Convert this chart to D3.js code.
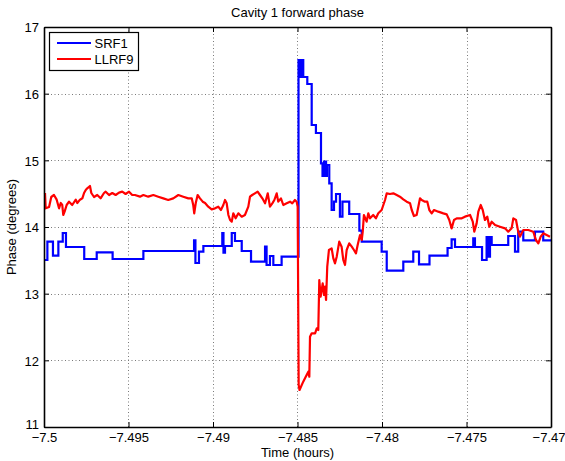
<!DOCTYPE html>
<html>
<head>
<meta charset="utf-8">
<script src="https://cdn.jsdelivr.net/npm/d3@7"></script>
<style>
  html, body { margin: 0; padding: 0; background: #fff; }
  svg { display: block; font-family: "Liberation Sans", Arial, Helvetica, sans-serif; }
</style>
</head>
<body>
<svg id="chart" width="565" height="461"></svg>
<script>
// Cavity 1 forward phase: SRF1 (stepped readback) vs LLRF9 over a 0.03 h window
const chartTitle = "Cavity 1 forward phase";
const xLabel = "Time (hours)";
const yLabel = "Phase (degrees)";
const seriesNames = ["SRF1", "LLRF9"];
const seriesColors = ["#0000ff", "#ff0000"];

const xTicks = [-7.5, -7.495, -7.49, -7.485, -7.48, -7.475, -7.47];
const xTickLabels = ["\u22127.5", "\u22127.495", "\u22127.49", "\u22127.485", "\u22127.48", "\u22127.475", "\u22127.47"];
const yTicks = [11, 12, 13, 14, 15, 16, 17];
const yTickLabels = ["11", "12", "13", "14", "15", "16", "17"];

// SRF1: [time (h), phase (deg)], value holds until the next sample
const srf1Time = [
  -7.49994, -7.49980, -7.49947, -7.49915, -7.49889, -7.49870, -7.49762, -7.49688, -7.49594, -7.49412,
  -7.49112, -7.49104, -7.49083, -7.49057, -7.48945, -7.48938, -7.48929, -7.48889, -7.48870, -7.48830,
  -7.48775, -7.48692, -7.48683, -7.48663, -7.48643, -7.48594, -7.48494, -7.48482, -7.48476, -7.48466,
  -7.48442, -7.48416, -7.48391, -7.48361, -7.48352, -7.48343, -7.48331, -7.48326, -7.48312, -7.48298,
  -7.48284, -7.48272, -7.48249, -7.48234, -7.48194, -7.48134, -7.48120, -7.48002, -7.47972, -7.47874,
  -7.47815, -7.47781, -7.47719, -7.47612, -7.47588, -7.47568, -7.47460, -7.47450, -7.47408, -7.47381,
  -7.47373, -7.47361, -7.47351, -7.47253, -7.47213, -7.47194, -7.47164, -7.47095, -7.47046, -7.47000
];
const srf1Phase = [
  13.505, 13.78, 13.57, 13.78, 13.91, 13.70, 13.52, 13.62, 13.52, 13.64,
  13.80, 13.46, 13.63, 13.715, 13.91, 13.615, 13.715, 13.91, 13.79, 13.64,
  13.48, 13.705, 13.43, 13.565, 13.43, 13.555, 16.505, 16.25, 16.505, 16.25,
  16.145, 15.53, 15.41, 14.955, 14.765, 14.98, 14.765, 14.93, 14.655, 14.255,
  14.38, 14.495, 14.155, 14.38, 14.195, 13.945, 13.78, 13.63, 13.345, 13.48,
  13.63, 13.44, 13.57, 13.685, 13.815, 13.70, 13.83, 13.70, 13.505, 13.85,
  13.555, 13.85, 13.73, 13.865, 13.63, 13.93, 13.80, 13.93, 13.80, 13.80
];

// LLRF9: [time (h), phase (deg)]
const llrf9Time = [
  -7.49994, -7.49990, -7.49970, -7.49957, -7.49941, -7.49925, -7.49911, -7.49901, -7.49892, -7.49886,
  -7.49878, -7.49866, -7.49852, -7.49833, -7.49812, -7.49803, -7.49787, -7.49773, -7.49763, -7.49753,
  -7.49744, -7.49728, -7.49720, -7.49704, -7.49685, -7.49665, -7.49645, -7.49635, -7.49615, -7.49596,
  -7.49576, -7.49556, -7.49537, -7.49517, -7.49497, -7.49478, -7.49462, -7.49432, -7.49412, -7.49383,
  -7.49353, -7.49324, -7.49294, -7.49265, -7.49235, -7.49205, -7.49176, -7.49146, -7.49126, -7.49117,
  -7.49111, -7.49102, -7.49091, -7.49077, -7.49061, -7.49047, -7.49028, -7.49008, -7.48988, -7.48969,
  -7.48953, -7.48939, -7.48929, -7.48919, -7.48909, -7.48899, -7.48889, -7.48880, -7.48866, -7.48850,
  -7.48830, -7.48811, -7.48791, -7.48781, -7.48768, -7.48752, -7.48736, -7.48722, -7.48708, -7.48692,
  -7.48676, -7.48663, -7.48649, -7.48637, -7.48623, -7.48614, -7.48598, -7.48584, -7.48564, -7.48544,
  -7.48531, -7.48515, -7.48505, -7.48499, -7.48493, -7.48488, -7.48466, -7.48446, -7.48436, -7.48430,
  -7.48426, -7.48416, -7.48396, -7.48386, -7.48377, -7.48371, -7.48363, -7.48351, -7.48343, -7.48337,
  -7.48331, -7.48324, -7.48314, -7.48298, -7.48288, -7.48278, -7.48268, -7.48253, -7.48239, -7.48229,
  -7.48219, -7.48209, -7.48194, -7.48179, -7.48166, -7.48154, -7.48144, -7.48130, -7.48120, -7.48114,
  -7.48107, -7.48091, -7.48081, -7.48071, -7.48052, -7.48036, -7.48022, -7.48002, -7.47982, -7.47972,
  -7.47953, -7.47933, -7.47913, -7.47894, -7.47874, -7.47854, -7.47834, -7.47824, -7.47811, -7.47795,
  -7.47785, -7.47775, -7.47765, -7.47746, -7.47732, -7.47720, -7.47706, -7.47692, -7.47667, -7.47637,
  -7.47617, -7.47602, -7.47588, -7.47574, -7.47558, -7.47528, -7.47509, -7.47479, -7.47463, -7.47454,
  -7.47440, -7.47430, -7.47416, -7.47404, -7.47391, -7.47377, -7.47365, -7.47351, -7.47331, -7.47302,
  -7.47272, -7.47253, -7.47233, -7.47223, -7.47207, -7.47194, -7.47184, -7.47164, -7.47134, -7.47105,
  -7.47089, -7.47075, -7.47061, -7.47046, -7.47026, -7.47006
];
const llrf9Phase = [
  14.51, 14.28, 14.30, 14.45, 14.48, 14.41, 14.28, 14.36, 14.33, 14.18,
  14.23, 14.33, 14.38, 14.33, 14.41, 14.36, 14.41, 14.43, 14.51, 14.555,
  14.58, 14.615, 14.51, 14.45, 14.48, 14.43, 14.51, 14.53, 14.48, 14.51,
  14.48, 14.515, 14.53, 14.495, 14.53, 14.48, 14.48, 14.455, 14.48, 14.455,
  14.48, 14.455, 14.43, 14.405, 14.43, 14.48, 14.455, 14.43, 14.43, 14.33,
  14.205, 14.36, 14.48, 14.43, 14.38, 14.36, 14.305, 14.265, 14.28, 14.305,
  14.255, 14.33, 14.405, 14.355, 14.18, 14.105, 14.08, 14.205, 14.13, 14.205,
  14.155, 14.18, 14.305, 14.455, 14.48, 14.505, 14.53, 14.48, 14.43, 14.355,
  14.505, 14.305, 14.355, 14.405, 14.505, 14.38, 14.43, 14.33, 14.355, 14.38,
  14.355, 14.405, 14.38, 14.305, 11.63, 11.555, 11.68, 11.78, 11.83, 11.755,
  12.355, 12.405, 12.405, 12.48, 12.455, 13.205, 12.955, 13.155, 12.98, 13.105,
  12.905, 13.405, 13.655, 13.68, 13.53, 13.455, 13.555, 13.78, 13.705, 13.505,
  13.43, 13.655, 13.755, 13.705, 13.655, 13.605, 13.73, 13.88, 13.805, 13.93,
  14.18, 14.08, 14.205, 14.13, 14.18, 14.13, 14.205, 14.255, 14.405, 14.505,
  14.495, 14.505, 14.48, 14.455, 14.415, 14.38, 14.355, 14.255, 14.165, 14.18,
  14.305, 14.43, 14.405, 14.38, 14.38, 14.255, 14.205, 14.255, 14.23, 14.205,
  14.19, 14.105, 13.98, 14.105, 14.13, 14.13, 14.155, 14.18, 14.08, 13.93,
  14.055, 14.23, 14.33, 14.255, 14.105, 14.155, 14.005, 14.08, 14.03, 14.005,
  13.98, 13.93, 13.98, 14.13, 14.105, 13.93, 13.855, 13.955, 13.955, 13.93,
  13.805, 13.755, 13.855, 13.905, 13.88, 13.855
];

const W = 565, H = 461;
const margin = { left: 44, right: 14, top: 27, bottom: 34 };
const plotW = W - margin.left - margin.right;
const plotH = H - margin.top - margin.bottom;

const svg = d3.select("#chart");
svg.append("rect").attr("width", W).attr("height", H).attr("fill", "#fff");

const x = d3.scaleLinear().domain([-7.5, -7.47]).range([margin.left, margin.left + plotW]);
const y = d3.scaleLinear().domain([11, 17]).range([margin.top + plotH, margin.top]);

// dotted grid
const grid = svg.append("g").attr("stroke", "#7a7a7a").attr("stroke-width", 1).attr("stroke-dasharray", "1,2.5");
grid.selectAll("line.gx").data(xTicks.slice(1, -1)).join("line")
  .attr("x1", d => Math.round(x(d)) + 0.5).attr("x2", d => Math.round(x(d)) + 0.5)
  .attr("y1", y(17)).attr("y2", y(11));
grid.selectAll("line.gy").data(yTicks.slice(1, -1)).join("line")
  .attr("y1", d => Math.round(y(d)) + 0.5).attr("y2", d => Math.round(y(d)) + 0.5)
  .attr("x1", x(-7.5)).attr("x2", x(-7.47));

// data lines
const plot = svg.append("g");
const srf1 = srf1Time.map((t, i) => [t, srf1Phase[i]]);
const llrf9 = llrf9Time.map((t, i) => [t, llrf9Phase[i]]);

plot.append("path").datum(srf1)
  .attr("fill", "none").attr("stroke", seriesColors[0]).attr("stroke-width", 2.2)
  .attr("stroke-linejoin", "miter")
  .attr("d", d3.line().x(d => x(d[0])).y(d => y(d[1])).curve(d3.curveStepAfter));

plot.append("path").datum(llrf9)
  .attr("fill", "none").attr("stroke", seriesColors[1]).attr("stroke-width", 2.2)
  .attr("stroke-linejoin", "round")
  .attr("d", d3.line().x(d => x(d[0])).y(d => y(d[1])));

// axes: bottom + left with labels, top + right for the box ticks
const tickFmtX = d => xTickLabels[xTicks.indexOf(d)];
const tickFmtY = d => yTickLabels[yTicks.indexOf(d)];

const axB = svg.append("g").attr("transform", `translate(0,${y(11)})`)
  .call(d3.axisBottom(x).tickValues(xTicks).tickFormat(tickFmtX).tickSizeInner(-5).tickSizeOuter(0).tickPadding(6));
const axL = svg.append("g").attr("transform", `translate(${x(-7.5)},0)`)
  .call(d3.axisLeft(y).tickValues(yTicks).tickFormat(tickFmtY).tickSizeInner(-5).tickSizeOuter(0).tickPadding(5));
const axT = svg.append("g").attr("transform", `translate(0,${y(17)})`)
  .call(d3.axisTop(x).tickValues(xTicks).tickFormat("").tickSizeInner(-5).tickSizeOuter(0));
const axR = svg.append("g").attr("transform", `translate(${x(-7.47)},0)`)
  .call(d3.axisRight(y).tickValues(yTicks).tickFormat("").tickSizeInner(-5).tickSizeOuter(0));

[axB, axL, axT, axR].forEach(a => {
  a.select(".domain").attr("stroke", "#000").attr("stroke-width", 1.6);
  a.selectAll(".tick line").attr("stroke", "#000").attr("stroke-width", 1);
  a.selectAll("text").attr("fill", "#000").attr("font-size", 13)
    .attr("font-family", "'Liberation Sans', Arial, Helvetica, sans-serif");
});
axB.selectAll("text").attr("dy", "0.71em");
// keep the last x label inside the canvas
axB.selectAll(".tick").filter(d => d === -7.47).select("text").attr("text-anchor", "end").attr("x", 14);
axL.selectAll("text").attr("dy", "0.36em");
// MATLAB-style: the lowest y label sits just above the corner
axL.selectAll(".tick").filter(d => d === 11).select("text").attr("dy", "0.1em");

// title and axis labels
svg.append("text").attr("x", x(-7.485)).attr("y", 17).attr("text-anchor", "middle")
  .attr("font-size", 13).attr("fill", "#000").text(chartTitle);
svg.append("text").attr("x", x(-7.485)).attr("y", 457).attr("text-anchor", "middle")
  .attr("font-size", 13).attr("fill", "#000").text(xLabel);
svg.append("text").attr("transform", `translate(16,${y(14)}) rotate(-90)`).attr("text-anchor", "middle")
  .attr("font-size", 13).attr("fill", "#000").text(yLabel);

// legend
const leg = svg.append("g").attr("transform", "translate(49.5,32.5)");
leg.append("rect").attr("width", 89).attr("height", 38).attr("fill", "#fff")
  .attr("stroke", "#000").attr("stroke-width", 1.2);
seriesNames.forEach((name, i) => {
  const ly = 10.5 + i * 16;
  leg.append("line").attr("x1", 7.5).attr("x2", 41.5).attr("y1", ly).attr("y2", ly)
    .attr("stroke", seriesColors[i]).attr("stroke-width", 2.2);
  leg.append("text").attr("x", 45).attr("y", ly).attr("dy", "0.36em")
    .attr("font-size", 13).attr("fill", "#000").text(name);
});
</script>
</body>
</html>
